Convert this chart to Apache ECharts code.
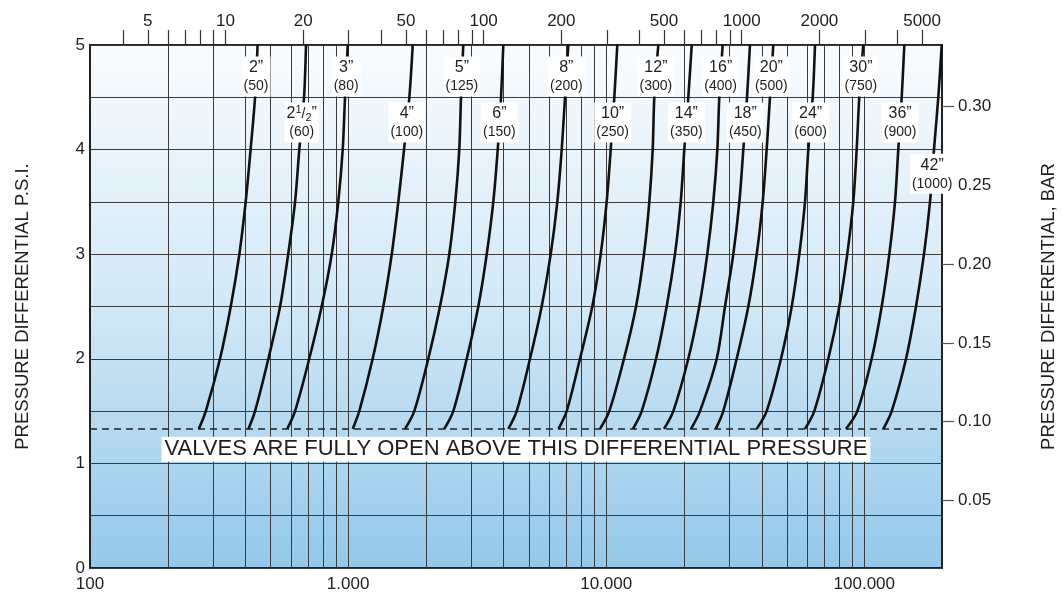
<!DOCTYPE html>
<html><head><meta charset="utf-8">
<script src="https://cdn.jsdelivr.net/npm/echarts@6/dist/echarts.min.js"></script>
<style>html,body{margin:0;padding:0;background:#fff}#c{width:1062px;height:592px}</style>
</head><body><div id="c"></div>
<script>
// ---- data ----
const psiLevels = [5, 4.5, 4, 3.5, 3, 2.5, 2, 1.5, 1.33];
const valveSizes = ['2', '2 1/2', '3', '4', '5', '6', '8', '10', '12', '14', '16', '18', '20', '24', '30', '36', '42'];
const valveDN = ['50', '60', '80', '100', '125', '150', '200', '250', '300', '350', '400', '450', '500', '600', '750', '900', '1000'];
const flow2  = [446, 436, 419, 401, 379, 351, 319, 281, 264];
const flow2h = [687, 675, 647, 623, 586, 545, 491, 436, 411];
const flow3  = [997, 973, 953, 916, 864, 790, 707, 623, 581];
const flow4  = [1780, 1727, 1647, 1565, 1476, 1369, 1245, 1105, 1042];
const flow5  = [2794, 2738, 2696, 2602, 2466, 2270, 2045, 1805, 1662];
const flow6  = [3994, 3913, 3799, 3652, 3444, 3195, 2881, 2556, 2359];
const flow8  = [7132, 6925, 6723, 6465, 6095, 5624, 5067, 4500, 4176];
const flow10 = [11040, 10750, 10410, 10040, 9522, 8833, 7914, 7029, 6535];
const flow12 = [15920, 15360, 15140, 14690, 14010, 13050, 11720, 10280, 9462];
const flow14 = [21450, 20800, 20070, 19440, 18470, 17150, 15600, 13730, 12700];
const flow16 = [28270, 27430, 26950, 26000, 24640, 22940, 20800, 18200, 16750];
const flow18 = [36060, 35120, 33980, 32800, 31080, 28860, 26800, 23090, 21310];
const flow20 = [44400, 43100, 41850, 40400, 38290, 35530, 32030, 28420, 26570];
const flow24 = [64420, 63110, 60690, 58920, 56010, 52340, 47560, 41850, 38290];
const flow30 = [99110, 95620, 93410, 90630, 85900, 80010, 72530, 64020, 58920];
const flow36 = [142900, 139600, 135400, 131500, 125000, 116800, 106800, 93960, 84930];
const flow42 = [199500, 193500, 186200, 179700, 170300, 158600, 145100, 127700, 118500];
const fullyOpenPsi = 1.33;
const noteText = 'VALVES ARE FULLY OPEN ABOVE THIS DIFFERENTIAL PRESSURE';
const bottomTickLabels = [100, 1000, 10000, 100000];
const topTickLabels = [5, 10, 20, 50, 100, 200, 500, 1000, 2000, 5000];
const topMinorTicks = [4, 5, 6, 7, 8, 9, 10, 20, 30, 40, 50, 60, 70, 80, 90, 100, 200, 300, 400, 500, 600, 700, 800, 900, 1000, 2000, 3000, 4000, 5000];
const psiLabels = [0, 1, 2, 3, 4, 5];
const barLabels = [0.05, 0.10, 0.15, 0.20, 0.25, 0.30];
const bottomToTopRatio = 33.5;
const barAxisMin = 0.0071, barAxisMax = 0.3392;
// label placement (psi at which each size label sits on its curve)
const labelPsi = [4.70, 4.26, 4.70, 4.26, 4.70, 4.26, 4.70, 4.26, 4.70, 4.26, 4.70, 4.26, 4.70, 4.26, 4.70, 4.26, 3.77];
const noteAnchor = [4470, 1.135];

const flows = [flow2, flow2h, flow3, flow4, flow5, flow6, flow8, flow10, flow12, flow14, flow16, flow18, flow20, flow24, flow30, flow36, flow42];

// vertical grid values (log decades 2..10)
const xGrid = [];
for (let d = 100; d <= 100000; d *= 10) {
  for (let m = (d === 100 ? 2 : 1); m <= 9; m++) { if (d * m < 200000) xGrid.push(d * m); }
}

function interpFlow(arr, p) {
  for (let i = 0; i < psiLevels.length - 1; i++) {
    const a = psiLevels[i], b = psiLevels[i + 1];
    if ((p <= a && p >= b)) {
      const t = (a - p) / (a - b);
      return Math.pow(10, Math.log10(arr[i]) * (1 - t) + Math.log10(arr[i + 1]) * t);
    }
  }
  return arr[0];
}

const FONT = '"Liberation Sans", Arial, Helvetica, sans-serif';
const INK = '#1e1e1e';
const GRIDLINE = '#3a3a3a';

const curveSeries = flows.map((arr, i) => ({
  type: 'line', name: valveSizes[i], xAxisIndex: 0, yAxisIndex: 0,
  data: arr.map((v, j) => [v, psiLevels[j]]),
  smooth: 0.3, symbol: 'none', silent: true, z: 3,
  lineStyle: { color: '#111', width: 2.6 }
}));

function sizeLabel(i) {
  const s = valveSizes[i];
  const first = s === '2 1/2' ? '{n|2}{sup|1}{sl|/}{sub|2}{n|”}' : '{n|' + s + '”}';
  return first + '\n{p|(' + valveDN[i] + ')}';
}

const labelData = flows.map((arr, i) => ({
  value: [interpFlow(arr, labelPsi[i]), labelPsi[i]],
  label: { formatter: sizeLabel(i) }
}));

const option = {
  animation: false,
  textStyle: { fontFamily: FONT },
  grid: {
    left: 90, right: 120, top: 45, bottom: 24, show: true, containLabel: false, outerBoundsMode: 'none',
    borderColor: '#222', borderWidth: 2,
    backgroundColor: new echarts.graphic.LinearGradient(0, 0, 0, 1, [
      { offset: 0, color: '#f9fcfe' },
      { offset: 0.5, color: '#d2e8f6' },
      { offset: 1, color: '#93c8ea' }
    ])
  },
  xAxis: [
    {
      type: 'log', logBase: 10, min: 100, max: 200000, position: 'bottom',
      axisLine: { show: false }, axisTick: { show: false }, splitLine: { show: false },
      axisLabel: {
        customValues: bottomTickLabels, margin: 8, fontSize: 17, color: INK, fontFamily: FONT,
        formatter: v => String(Math.round(v)).replace(/\B(?=(\d{3})+(?!\d))/g, '.')
      }
    },
    {
      type: 'log', logBase: 10, min: 100 / bottomToTopRatio, max: 200000 / bottomToTopRatio, position: 'top',
      axisLine: { show: false }, splitLine: { show: false },
      axisTick: { show: true, inside: false, length: 15, customValues: topMinorTicks, lineStyle: { color: '#333', width: 1.2 } },
      axisLabel: {
        customValues: topTickLabels, margin: 15, fontSize: 17, color: INK, fontFamily: FONT,
        formatter: v => String(Math.round(v))
      }
    }
  ],
  yAxis: [
    {
      type: 'value', min: 0, max: 5, interval: 0.5, position: 'left',
      name: 'PRESSURE DIFFERENTIAL P.S.I.', nameLocation: 'middle', nameRotate: 90, nameGap: 58,
      nameTextStyle: { fontSize: 18.5, color: INK, fontFamily: FONT },
      axisLine: { show: false }, axisTick: { show: false },
      splitLine: { show: true, lineStyle: { color: GRIDLINE, width: 1 } },
      axisLabel: { customValues: psiLabels, margin: 5, fontSize: 17, color: INK, fontFamily: FONT }
    },
    {
      type: 'value', min: barAxisMin, max: barAxisMax, position: 'right',
      name: 'PRESSURE DIFFERENTIAL, BAR', nameLocation: 'middle', nameRotate: 90, nameGap: 97,
      nameTextStyle: { fontSize: 18.5, color: INK, fontFamily: FONT },
      axisLine: { show: false }, splitLine: { show: false },
      axisTick: { show: true, inside: false, length: 12, customValues: barLabels, lineStyle: { color: '#555', width: 1.2 } },
      axisLabel: { customValues: barLabels, margin: 16, fontSize: 17, color: INK, fontFamily: FONT, formatter: v => v.toFixed(2) }
    }
  ],
  series: [
    {
      type: 'custom', name: 'xgrid', xAxisIndex: 0, yAxisIndex: 0, silent: true, z: 1,
      data: xGrid.map(v => [v]),
      encode: { x: 0 },
      renderItem: function (params, api) {
        const cs = params.coordSys;
        const x = Math.round(api.coord([api.value(0), 1])[0]) + 0.5;
        return {
          type: 'line',
          shape: { x1: x, y1: cs.y, x2: x, y2: cs.y + cs.height },
          style: { stroke: GRIDLINE, lineWidth: 1 }
        };
      }
    },
    {
      type: 'line', name: 'fullyOpen', xAxisIndex: 0, yAxisIndex: 0,
      data: [[100, fullyOpenPsi], [200000, fullyOpenPsi]],
      symbol: 'none', silent: true, z: 2,
      lineStyle: { color: '#222', width: 1.5, type: [7, 5] }
    },
    ...curveSeries,
    {
      type: 'scatter', name: 'labels', xAxisIndex: 0, yAxisIndex: 0, silent: true, z: 6,
      symbolSize: 1, itemStyle: { color: 'rgba(0,0,0,0)', opacity: 1 },
      data: labelData,
      label: {
        show: true, position: 'inside', color: INK, backgroundColor: '#fff', padding: [2, 2, 1, 2],
        align: 'center', verticalAlign: 'middle', fontFamily: FONT,
        rich: {
          n: { fontSize: 16, lineHeight: 19, color: INK, fontFamily: FONT },
          sup: { fontSize: 11, lineHeight: 19, verticalAlign: 'top', color: INK, fontFamily: FONT, padding: [0, 0, 6, 0] },
          sl: { fontSize: 14, lineHeight: 19, color: INK, fontFamily: FONT },
          sub: { fontSize: 11, lineHeight: 19, verticalAlign: 'bottom', color: INK, fontFamily: FONT, padding: [4, 0, 0, 0] },
          p: { fontSize: 14, lineHeight: 18, color: INK, fontFamily: FONT }
        }
      }
    },
    {
      type: 'scatter', name: 'note', xAxisIndex: 0, yAxisIndex: 0, silent: true, z: 7,
      symbolSize: 1, itemStyle: { color: 'rgba(0,0,0,0)', opacity: 1 },
      data: [{ value: noteAnchor }],
      label: {
        show: true, position: 'inside', formatter: noteText, fontSize: 22, color: INK,
        backgroundColor: '#fff', padding: [2, 3, 1, 3], fontFamily: FONT
      }
    }
  ]
};

const chart = echarts.init(document.getElementById('c'), null, { renderer: 'canvas' });
chart.setOption(option);
</script>
</body></html>
